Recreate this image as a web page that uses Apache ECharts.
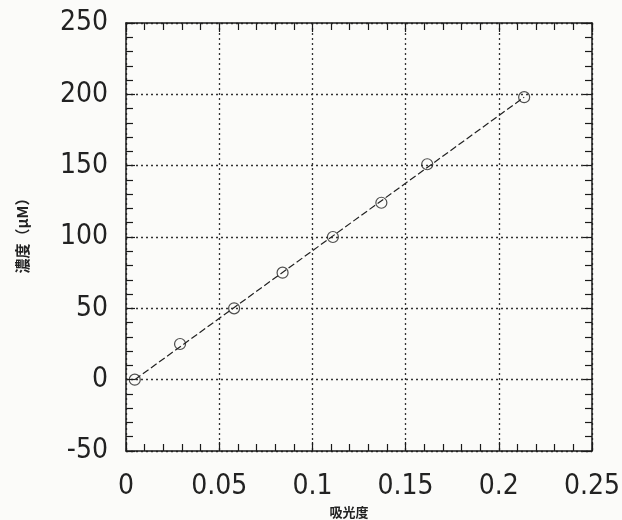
<!DOCTYPE html>
<html>
<head>
<meta charset="utf-8">
<script src="https://cdn.jsdelivr.net/npm/echarts@6/dist/echarts.min.js"></script>
<style>
html,body{margin:0;padding:0;background:#fbfbf9;}
#chart{width:622px;height:520px;}
</style>
</head>
<body>
<div id="chart"></div>
<script>
// Measured points (absorbance vs concentration)
const absorbance = [0.0047, 0.029, 0.058, 0.084, 0.111, 0.137, 0.1616, 0.2136];
const concentration = [0, 25, 50, 75, 100, 124, 151, 198];
// Calibration (fit) line endpoints
const fitAbsorbance = [0.0047, 0.2136];
const fitConcentration = [0, 198];
// Axis settings
const xMin = 0, xMax = 0.25, xStep = 0.05;
const yMin = -50, yMax = 250, yStep = 50;
const xTitle = '吸光度';
const yTitle = '濃度（μM）';

const numFont = '"Liberation Sans Narrow", "DejaVu Sans Condensed", "Noto Sans", sans-serif';
const cjkFont = '"Noto Sans CJK JP", "Noto Sans CJK SC", sans-serif';
const ink = '#1a1a1a';

const gridLine = {show: true, lineStyle: {type: [2, 3], color: '#333', width: 1.3}};
const axisLine = {show: true, onZero: false, lineStyle: {color: ink, width: 1.5}};
const tick = {show: true, inside: true, length: 9, lineStyle: {color: ink, width: 1.2}};
const minor = {show: true, splitNumber: 5, length: 7, lineStyle: {color: ink, width: 1.2}};

const chart = echarts.init(document.getElementById('chart'), null, {renderer: 'canvas'});
chart.setOption({
  backgroundColor: '#fbfbf9',
  animation: false,
  grid: {left: 126, right: 30, top: 23, bottom: 69, containLabel: false, outerBoundsMode: 'none'},
  xAxis: [
    {
      type: 'value', min: xMin, max: xMax, interval: xStep, position: 'bottom',
      axisLine: axisLine, axisTick: tick, minorTick: minor, splitLine: gridLine,
      axisLabel: {fontSize: 28, margin: 22, color: '#222', fontFamily: numFont},
      name: xTitle, nameLocation: 'middle', nameGap: 50,
      nameTextStyle: {fontSize: 13, fontWeight: 'bold', color: '#222', fontFamily: cjkFont, padding: [0, 20, 0, 0]}
    },
    {
      type: 'value', min: xMin, max: xMax, interval: xStep, position: 'top',
      axisLine: axisLine, axisTick: tick, minorTick: minor, splitLine: {show: false},
      axisLabel: {show: false}
    }
  ],
  yAxis: [
    {
      type: 'value', min: yMin, max: yMax, interval: yStep, position: 'left',
      axisLine: axisLine, axisTick: tick, minorTick: minor, splitLine: gridLine,
      axisLabel: {fontSize: 28, margin: 18, color: '#222', fontFamily: numFont},
      name: yTitle, nameLocation: 'middle', nameGap: 96,
      nameTextStyle: {fontSize: 15, fontWeight: 'bold', color: '#222', fontFamily: cjkFont, padding: [0, 0, 0, 10]}
    },
    {
      type: 'value', min: yMin, max: yMax, interval: yStep, position: 'right',
      axisLine: axisLine, axisTick: tick, minorTick: minor, splitLine: {show: false},
      axisLabel: {show: false}
    }
  ],
  series: [
    {
      type: 'line',
      data: fitAbsorbance.map((x, i) => [x, fitConcentration[i]]),
      symbol: 'none',
      lineStyle: {color: '#222', width: 1.2, type: [7, 3]},
      z: 3
    },
    {
      type: 'scatter',
      data: absorbance.map((x, i) => [x, concentration[i]]),
      symbol: 'circle',
      symbolSize: 11,
      itemStyle: {color: 'rgba(0,0,0,0)', borderColor: '#222', borderWidth: 1.2},
      z: 4
    }
  ]
});
</script>
</body>
</html>
